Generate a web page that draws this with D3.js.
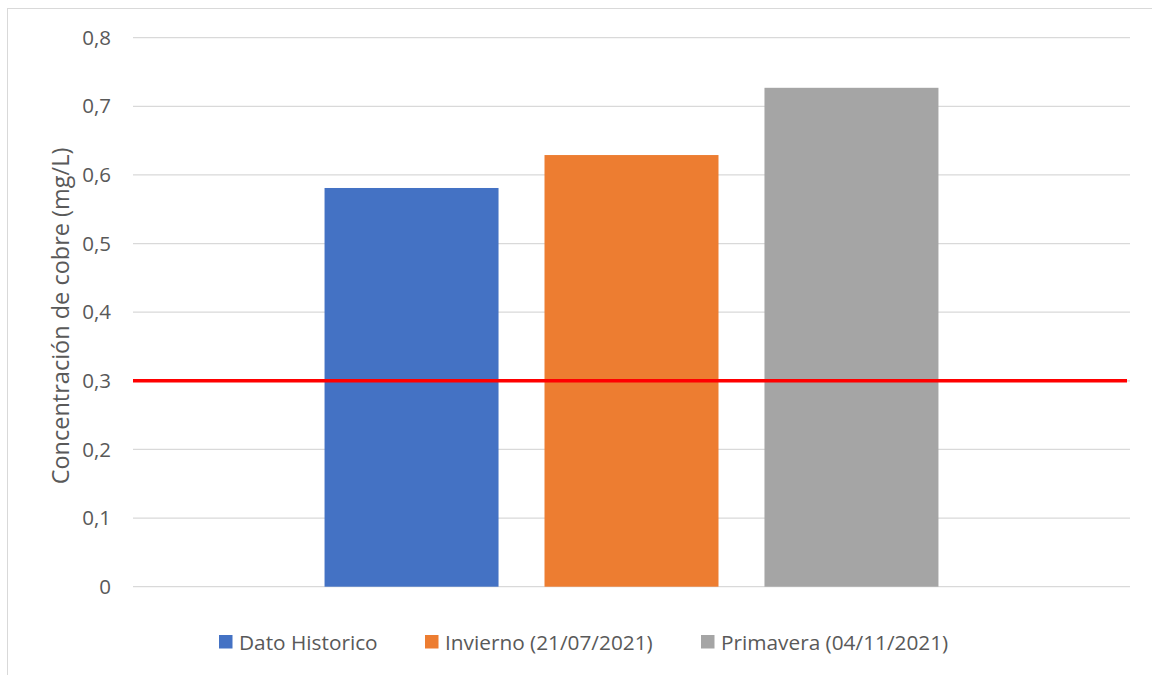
<!DOCTYPE html>
<html><head><meta charset="utf-8">
<script src="https://cdn.jsdelivr.net/npm/d3@7"></script>
<style>body{margin:0;background:#fff;} svg{display:block;font-family:"Open Sans","Noto Sans",sans-serif;}</style>
</head><body>
<svg id="c" width="1152" height="675"></svg>
<script>
const categories = ["Dato Historico"];
const seriesNames = ["Dato Historico", "Invierno (21/07/2021)", "Primavera (04/11/2021)"];
const seriesValues = [0.581, 0.629, 0.727];
const seriesColors = ["#4472C4", "#ED7D31", "#A5A5A5"];
const yTicks = [0, 0.1, 0.2, 0.3, 0.4, 0.5, 0.6, 0.7, 0.8];
const yTickLabels = ["0", "0,1", "0,2", "0,3", "0,4", "0,5", "0,6", "0,7", "0,8"];
const limitValue = 0.3;
const yTitle = "Concentración de cobre (mg/L)";

const svg = d3.select("#c");
const m = {left: 133, right: 1130, top: 37.7, bottom: 586.7};

svg.append("rect").attr("x", 7.5).attr("y", 8.5).attr("width", 1160).attr("height", 700)
  .attr("fill", "#fff").attr("stroke", "#d9d9d9").attr("stroke-width", 1);

const y = d3.scaleLinear().domain([0, 0.8]).range([m.bottom, m.top]);
const x0 = d3.scaleBand().domain(categories).range([m.left, m.right]).paddingInner(0).paddingOuter(0.312);
const x1 = d3.scaleBand().domain(seriesNames).range([0, x0.bandwidth()]).paddingInner(0.209).paddingOuter(0);

// gridlines
svg.append("g").selectAll("line").data(yTicks).join("line")
  .attr("x1", m.left).attr("x2", m.right)
  .attr("y1", d => y(d)).attr("y2", d => y(d))
  .attr("stroke", "#d9d9d9").attr("stroke-width", 1.2);

// y axis labels
const ax = svg.append("g").attr("transform", `translate(${m.left},0)`)
  .call(d3.axisLeft(y).tickValues(yTicks).tickSize(0).tickPadding(22).tickFormat((d, i) => yTickLabels[i]));
ax.select(".domain").remove();
ax.selectAll("text").attr("font-size", 20.5).attr("fill", "#595959").attr("font-family", '"Open Sans","Noto Sans",sans-serif');

// bars
const g = svg.append("g");
categories.forEach(cat => {
  g.selectAll("rect.bar").data(seriesNames).join("rect").attr("class", "bar")
    .attr("x", d => x0(cat) + x1(d))
    .attr("width", x1.bandwidth())
    .attr("y", (d, i) => y(seriesValues[i]))
    .attr("height", (d, i) => y(0) - y(seriesValues[i]))
    .attr("fill", (d, i) => seriesColors[i]);
});

// limit line
svg.append("line").attr("x1", m.left).attr("x2", 1127)
  .attr("y1", y(limitValue)).attr("y2", y(limitValue))
  .attr("stroke", "#FF0000").attr("stroke-width", 3.5);

// y title
svg.append("text").attr("transform", "translate(69,316) rotate(-90)")
  .attr("text-anchor", "middle").attr("font-size", 23.5).attr("fill", "#595959")
  .text(yTitle);

// legend
const legX = [219, 425, 701];
const leg = svg.append("g");
seriesNames.forEach((s, i) => {
  leg.append("rect").attr("x", legX[i]).attr("y", 635).attr("width", 13.5).attr("height", 13.5).attr("fill", seriesColors[i]);
  leg.append("text").attr("x", legX[i] + 20).attr("y", 650).attr("font-size", 20.8).attr("fill", "#595959").text(s);
});
</script>
</body></html>
